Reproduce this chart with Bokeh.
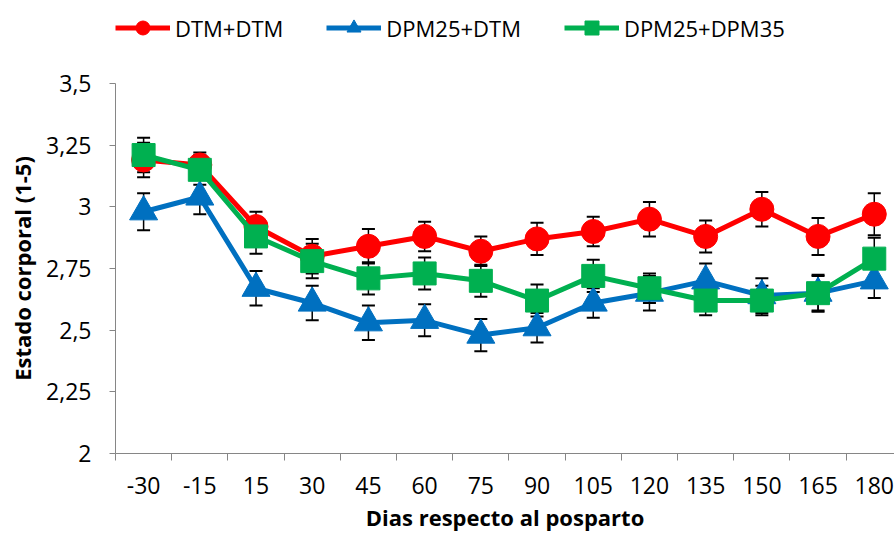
from bokeh.plotting import figure
from bokeh.layouts import column
from bokeh.models import (Range1d, FixedTicker, ColumnDataSource, Whisker, TeeHead,
                          Legend, LegendItem, CustomJSTickFormatter)
from bokeh.embed import file_html
from bokeh.resources import INLINE

# ---- data ----
days = ["-30", "-15", "15", "30", "45", "60", "75", "90", "105", "120", "135", "150", "165", "180"]

dtm_dtm = [3.19, 3.17, 2.92, 2.80, 2.84, 2.88, 2.82, 2.87, 2.90, 2.95, 2.88, 2.99, 2.88, 2.97]
dtm_dtm_err = [0.07, 0.05, 0.06, 0.07, 0.07, 0.06, 0.06, 0.065, 0.06, 0.07, 0.065, 0.07, 0.075, 0.085]

dpm25_dtm = [2.98, 3.04, 2.67, 2.61, 2.53, 2.54, 2.48, 2.51, 2.61, 2.65, 2.70, 2.64, 2.65, 2.70]
dpm25_dtm_err = [0.075, 0.07, 0.07, 0.07, 0.07, 0.065, 0.065, 0.06, 0.06, 0.07, 0.07, 0.07, 0.07, 0.07]

dpm25_dpm35 = [3.21, 3.15, 2.88, 2.78, 2.71, 2.73, 2.70, 2.62, 2.72, 2.67, 2.62, 2.62, 2.65, 2.79]
dpm25_dpm35_err = [0.07, 0.06, 0.07, 0.07, 0.065, 0.065, 0.065, 0.065, 0.065, 0.06, 0.06, 0.06, 0.075, 0.085]

y_ticks = [2, 2.25, 2.5, 2.75, 3, 3.25, 3.5]

series = [
    ("DTM+DTM", dtm_dtm, dtm_dtm_err, "#FF0000", "circle", 24),
    ("DPM25+DTM", dpm25_dtm, dpm25_dtm_err, "#0070C0", "triangle", 28),
    ("DPM25+DPM35", dpm25_dpm35, dpm25_dpm35_err, "#00B050", "square", 23),
]

FONT = "Open Sans"
x = list(range(len(days)))

# ---- main chart ----
p = figure(width=894, height=477, output_backend="svg", toolbar_location=None,
           x_range=Range1d(-0.5, 13.36), y_range=Range1d(2, 3.5),
           min_border_left=115, min_border_right=0, min_border_top=23, min_border_bottom=84)
p.outline_line_color = None
p.xgrid.grid_line_color = None
p.ygrid.grid_line_color = None

for name, vals, errs, color, marker, size in series:
    src = ColumnDataSource(dict(x=x, y=vals,
                                upper=[v + e for v, e in zip(vals, errs)],
                                lower=[v - e for v, e in zip(vals, errs)]))
    w = Whisker(source=src, base="x", upper="upper", lower="lower",
                line_color="black", line_width=1.5,
                upper_head=TeeHead(size=13, line_color="black", line_width=2),
                lower_head=TeeHead(size=13, line_color="black", line_width=2))
    p.add_layout(w)
for name, vals, errs, color, marker, size in series:
    src = ColumnDataSource(dict(x=x, y=vals))
    p.line("x", "y", source=src, line_color=color, line_width=5)
    p.scatter("x", "y", source=src, marker=marker, size=size,
              fill_color=color, line_color=color)

# x axis
xa = p.xaxis[0]
xa.ticker = FixedTicker(ticks=x, minor_ticks=[i - 0.5 for i in range(len(days) + 1)])
xa.major_label_overrides = {i: d for i, d in enumerate(days)}
xa.major_tick_out = 0
xa.major_tick_in = 0
xa.minor_tick_out = 7
xa.minor_tick_in = 0
xa.minor_tick_line_color = "#868686"
xa.axis_line_color = "#868686"
xa.major_label_text_font = FONT
xa.major_label_text_font_size = "23px"
xa.major_label_text_color = "#000000"
xa.major_label_standoff = 16
xa.axis_label = "Dias respecto al posparto"
xa.axis_label_text_font = FONT
xa.axis_label_text_font_size = "22px"
xa.axis_label_text_font_style = "bold"
xa.axis_label_text_color = "#000000"
xa.axis_label_standoff = 5

# y axis
ya = p.yaxis[0]
ya.ticker = FixedTicker(ticks=y_ticks)
ya.formatter = CustomJSTickFormatter(code="return String(tick).replace('.', ',');")
ya.major_tick_out = 6
ya.major_tick_in = 0
ya.minor_tick_line_color = None
ya.major_tick_line_color = "#868686"
ya.axis_line_color = "#868686"
ya.major_label_text_font = FONT
ya.major_label_text_font_size = "23px"
ya.major_label_text_color = "#000000"
ya.major_label_standoff = 18
ya.axis_label = "Estado corporal (1-5)"
ya.axis_label_text_font = FONT
ya.axis_label_text_font_size = "22px"
ya.axis_label_text_font_style = "bold"
ya.axis_label_text_color = "#000000"
ya.axis_label_standoff = 6

# ---- legend strip (its frame is aligned with the chart's frame) ----
pl = figure(width=894, height=60, output_backend="svg", toolbar_location=None,
            x_range=Range1d(0, 1), y_range=Range1d(0, 1),
            min_border_left=0, min_border_right=0, min_border_top=0, min_border_bottom=0)
pl.axis.visible = False
pl.xgrid.grid_line_color = None
pl.ygrid.grid_line_color = None
pl.outline_line_color = None
items = []
for name, vals, errs, color, marker, size in series:
    # same data as the chart; it lies outside this strip's ranges, so only the legend shows
    lr = pl.line(x=x, y=vals, line_color=color, line_width=5)
    sr = pl.scatter(x=x, y=vals, marker=marker, fill_color=color, line_color=color)
    items.append(LegendItem(label=name, renderers=[lr, sr]))
legend = Legend(items=items, orientation="horizontal", location=(0, 15),
                label_text_font=FONT, label_text_font_size="22px", label_text_color="#000000",
                glyph_width=55, glyph_height=35, label_height=35, label_standoff=5, spacing=43,
                padding=0, margin=0, border_line_color=None, background_fill_alpha=0)
pl.add_layout(legend)

layout = column(pl, p, spacing=0)
open("out.html", "w").write(file_html(layout, INLINE))
